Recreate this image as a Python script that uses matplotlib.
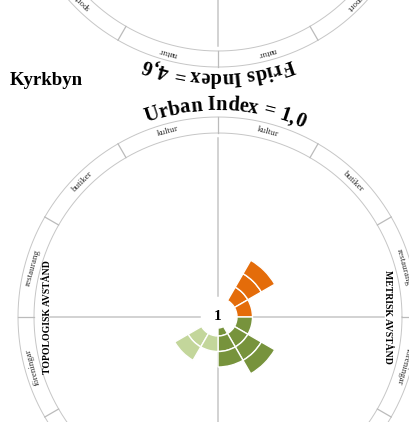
import numpy as np
import matplotlib
matplotlib.use('Agg')
import matplotlib.pyplot as plt
from matplotlib.font_manager import FontProperties, findfont
from matplotlib.ft2font import FT2Font

plt.rcParams['font.family'] = ['Liberation Serif', 'DejaVu Serif']

W, H, DPI = 410, 422, 100

# --- data ---
categories = ['kultur', 'butiker', 'restaurang', 'föreningar', 'sport', 'natur']
band_edges = [11, 19, 34.5, 50, 65.5]      # radius (px) of the distance bands

# Kyrkbyn: filled bands per category (from .. to), metric side and topological side
metric_from = [0, 1, 1, 1, 1, 0]
metric_to = [0, 4, 2, 2, 4, 3]
topo_from = [0, 0, 0, 0, 1, 1]
topo_to = [0, 0, 0, 0, 3, 2]
metric_colors = ['#E46C0A', '#E46C0A', '#E46C0A', '#77933C', '#77933C', '#77933C']
topo_colors = ['#FAC090', '#FAC090', '#FAC090', '#C3D69B', '#C3D69B', '#C3D69B']

area_name = 'Kyrkbyn'
urban_index = '1,0'
center_label = '1'
prev_frids_index = '4,6'   # wheel above (only its lower edge is visible)

GRID = '#c6c6c6'
SERIF = 'Liberation Serif'

fig = plt.figure(figsize=(W / DPI, H / DPI), dpi=DPI)
fig.patch.set_facecolor('white')


def wheel(cx, cy, label_angles):
    R = 205
    ax = fig.add_axes([(cx - R) / W, (H - cy - R) / H, 2 * R / W, 2 * R / H],
                      projection='polar')
    ax.set_ylim(0, R)
    ax.set_axis_off()

    t = np.linspace(0, 2 * np.pi, 721)
    for r in (184, 200):
        ax.plot(t, np.full_like(t, r), color=GRID, lw=0.7)
    for a in range(0, 360, 30):
        ax.plot([np.radians(a)] * 2, [184, 200], color='#bbbbbb', lw=0.9)

    # cross
    ax.plot([np.pi / 2] * 2, [21, 179], color=GRID, lw=1.1)
    ax.plot([-np.pi / 2] * 2, [21, 179], color=GRID, lw=1.1)
    ax.plot([0, 0], [20, 166], color=GRID, lw=1.1)
    ax.plot([np.pi] * 2, [18, 168], color=GRID, lw=1.1)

    # ring labels, metric side clockwise from the top, topological side counter-clockwise
    for i, name in enumerate(categories):
        for a in (75 - 30 * i, 105 + 30 * i):
            if a % 360 not in label_angles:
                continue
            ax.text(np.radians(a), 192, name, rotation=a - 90, rotation_mode='anchor',
                    ha='center', va='center', fontsize=6.5, color='#333333')
    return ax


def arc_text(ax, s, theta_c, r, size):
    fp = FontProperties(family=SERIF, weight='bold', size=size)
    font = FT2Font(findfont(fp))
    font.set_size(size, DPI)
    adv = np.array([font.load_char(ord(c)).linearHoriAdvance / 65536 for c in s])
    total = adv.sum()
    pos = np.cumsum(adv) - adv / 2
    for c, p in zip(s, pos):
        th = theta_c + np.degrees((total / 2 - p) / r)
        ax.text(np.radians(th), r, c, rotation=th - 90, rotation_mode='anchor',
                ha='center', va='baseline', fontproperties=fp, color='black')


# wheel above, only the bottom of it shows
ax0 = wheel(218, -133, [225, 255, 285, 315])
arc_text(ax0, f'Frids Index = {prev_frids_index}', -90, 205, 14.8)

# Kyrkbyn wheel
ax = wheel(218, 317, [15, 45, 75, 105, 135, 165, 195, 345])
width = np.radians(30)
for i in range(len(categories)):
    th_m = np.radians(75 - 30 * i)
    th_t = np.radians(105 + 30 * i)
    for b in range(metric_from[i], metric_to[i]):
        ax.bar(th_m, band_edges[b + 1] - band_edges[b], width=width, bottom=band_edges[b],
               color=metric_colors[i], edgecolor='white', linewidth=1.0, zorder=3)
    for b in range(topo_from[i], topo_to[i]):
        ax.bar(th_t, band_edges[b + 1] - band_edges[b], width=width, bottom=band_edges[b],
               color=topo_colors[i], edgecolor='white', linewidth=1.0, zorder=3)

ax.text(0, 0, center_label, ha='center', va='center', fontsize=11, fontweight='bold')
ax.text(0, 170, 'METRISK AVSTÅND', rotation=-90, ha='center', va='center',
        fontsize=7, fontweight='bold')
ax.text(np.pi, 170, 'TOPOLOGISK AVSTÅND', rotation=90, ha='center', va='center',
        fontsize=7, fontweight='bold')
arc_text(ax, f'Urban Index = {urban_index}', 88, 207, 14.8)

fig.text(10 / W, 1 - 85 / H, area_name, fontsize=13.5, fontweight='bold',
         ha='left', va='baseline')

fig.savefig('out.png', dpi=DPI, facecolor='white')
